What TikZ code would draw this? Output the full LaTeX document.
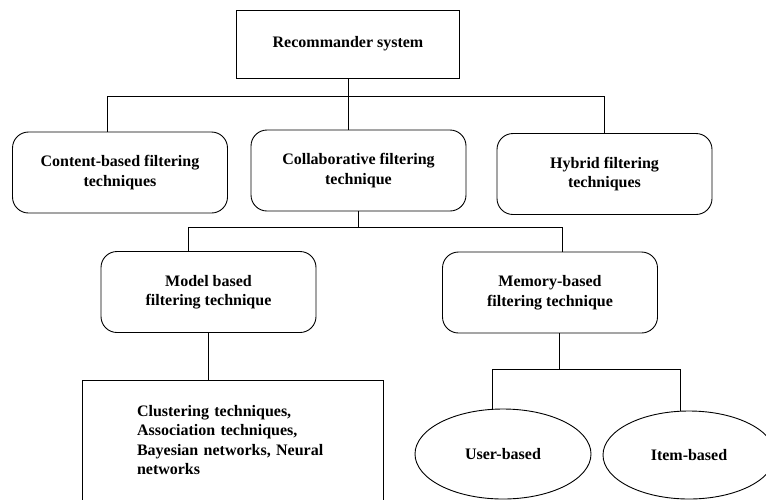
\documentclass[tikz,border=0pt]{standalone}
\usepackage{fontspec}
\setmainfont{Liberation Serif}
\usepackage{tikz}
\usetikzlibrary{calc,shapes.geometric}

\tikzset{
	plainbox/.style={draw, line width=0.9pt, align=center, inner sep=0pt},
	roundbox/.style={plainbox, rounded corners=16pt, minimum width=215pt, minimum height=81pt},
	leafell/.style={draw, line width=0.9pt, ellipse, inner sep=0pt},
	link/.style={line width=0.9pt}
}

\begin{document}
\begin{tikzpicture}[x=1pt, y=-1pt, font=\fontsize{16}{19.5}\selectfont\bfseries]
	\useasboundingbox (0,0) rectangle (766,499);
	\clip (0,0) rectangle (766,499);
	\node[plainbox, minimum width=223pt, minimum height=68pt] (root) at (348,44) {Recommander system};
	\node[roundbox] (content) at (120,172.5) {Content-based filtering\\techniques};
	\node[roundbox] (collab) at (358.5,170.5) {Collaborative filtering\\technique};
	\node[roundbox] (hybrid) at (604.5,174) {Hybrid filtering\\techniques};
	\node[roundbox] (model) at (208.5,292) {Model based\\filtering technique};
	\node[roundbox] (memory) at (550,292.5) {Memory-based\\filtering technique};
	\node[plainbox, minimum width=301pt, minimum height=120pt, text width=191pt, align=left] (algos) at (232.5,440)
		{Clustering techniques,\\Association techniques,\\Bayesian networks, Neural\\networks};
	\node[leafell, minimum width=176pt, minimum height=90pt] (user) at (503,454) {User-based};
	\node[leafell, minimum width=172pt, minimum height=88pt] (item) at (689,455) {Item-based};
	% first level
	\coordinate (b1l) at (107,96);
	\coordinate (b1r) at (604,96);
	\draw[link] (root.south) -- (root.south |- collab.north);
	\draw[link] (b1l |- content.north) -- (b1l) -- (b1r) -- (b1r |- hybrid.north);
	% second level
	\coordinate (b2l) at (188,227);
	\coordinate (b2r) at (562,227);
	\draw[link] (collab.south) -- (collab.south |- b2l);
	\draw[link] (b2l |- model.north) -- (b2l) -- (b2r) -- (b2r |- memory.north);
	\draw[link] (model.south) -- (model.south |- algos.north);
	% memory based
	\coordinate (b3l) at (492,369);
	\coordinate (b3m) at (559,369);
	\coordinate (b3r) at (680,369);
	\draw[link] (b3m |- memory.south) -- (b3m);
	\draw[link] (b3l |- user.north) -- (b3l) -- (b3r) -- (b3r |- item.north);
\end{tikzpicture}
\end{document}
